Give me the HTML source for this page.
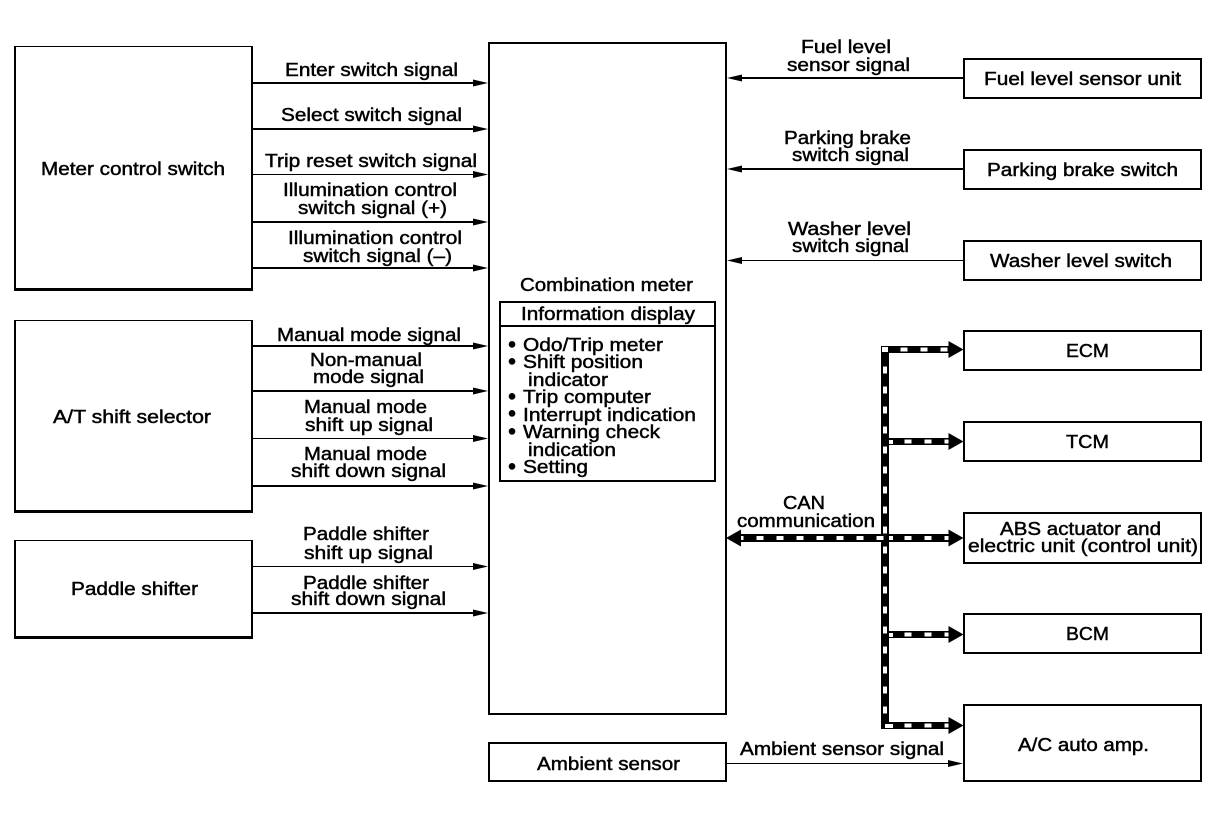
<!DOCTYPE html>
<html><head><meta charset="utf-8"><style>
html,body{margin:0;padding:0;background:#fff}
svg{display:block}
text{font-family:"Liberation Sans",sans-serif;font-size:18px;fill:#000;stroke:#000;stroke-width:.45px}
.b{fill:none;stroke:#000;stroke-width:2}
.l{stroke:#000;stroke-width:2;fill:none}
.t{stroke:#000;stroke-width:1;fill:none}
.w{stroke:#fff;stroke-width:4;fill:none;stroke-dasharray:7 13}
</style></head><body>
<svg width="1216" height="822" viewBox="0 0 1216 822" xmlns="http://www.w3.org/2000/svg">
<rect width="1216" height="822" fill="#fff"/>
<g shape-rendering="crispEdges">
<!-- left boxes: thin top, heavy bottom -->
<rect x="14" y="46" width="239" height="245" fill="#000"/><rect x="16" y="47" width="235" height="241" fill="#fff"/>
<rect x="14" y="320" width="239" height="193" fill="#000"/><rect x="16" y="321" width="235" height="189" fill="#fff"/>
<rect x="14" y="540" width="239" height="99" fill="#000"/><rect x="16" y="541" width="235" height="95" fill="#fff"/>
<rect class="b" x="489" y="43" width="237" height="671"/>
<rect class="b" x="489" y="743" width="237" height="38"/>
<rect class="b" x="500" y="302" width="215" height="179"/>
<line class="l" x1="500" y1="326" x2="715" y2="326"/>
<rect class="b" x="964" y="59" width="237" height="39"/>
<rect class="b" x="964" y="150" width="237" height="39"/>
<rect class="b" x="964" y="241" width="237" height="39"/>
<rect class="b" x="964" y="331" width="237" height="39"/>
<rect class="b" x="964" y="422" width="237" height="39"/>
<rect class="b" x="964" y="513" width="237" height="50"/>
<rect class="b" x="964" y="614" width="237" height="39"/>
<rect class="b" x="964" y="705" width="237" height="76"/>
<!-- left signal lines -->
<line class="l" x1="252" y1="83" x2="476" y2="83"/>
<line class="l" x1="252" y1="129" x2="476" y2="129"/>
<line class="t" x1="252" y1="174.5" x2="476" y2="174.5"/>
<line class="l" x1="252" y1="222" x2="476" y2="222"/>
<line class="l" x1="252" y1="268" x2="476" y2="268"/>
<line class="l" x1="252" y1="346" x2="476" y2="346"/>
<line class="l" x1="252" y1="391" x2="476" y2="391"/>
<line class="t" x1="252" y1="438.5" x2="476" y2="438.5"/>
<line class="l" x1="252" y1="486" x2="476" y2="486"/>
<line class="t" x1="252" y1="566.5" x2="476" y2="566.5"/>
<line class="l" x1="252" y1="613" x2="476" y2="613"/>
<!-- right signal lines -->
<line class="l" x1="738" y1="78" x2="964" y2="78"/>
<line class="l" x1="738" y1="169" x2="964" y2="169"/>
<line class="t" x1="738" y1="260.5" x2="964" y2="260.5"/>
<line class="t" x1="726" y1="763.5" x2="952" y2="763.5"/>
<!-- CAN bus black -->
<rect x="881" y="346" width="8" height="383" fill="#000"/>
<rect x="881" y="346" width="68" height="7" fill="#000"/>
<rect x="881" y="438" width="68" height="7" fill="#000"/>
<rect x="738" y="534" width="211" height="8" fill="#000"/>
<rect x="881" y="631" width="68" height="7" fill="#000"/>
<rect x="881" y="722" width="68" height="7" fill="#000"/>
<!-- CAN bus white dashes -->
<path class="w" d="M885 366.500V722"/>
<rect x="882" y="347" width="6" height="5" fill="#fff"/>
<path class="w" d="M900.500 349.500H952"/>
<path class="w" d="M904.500 441.500H952"/>
<path class="w" d="M904.500 538H952"/>
<path class="w" d="M904.500 634.500H952"/>
<path class="w" d="M904.500 725.500H952"/>
<path class="w" d="M736.500 538H884"/>
<rect x="889" y="440" width="4" height="4" fill="#fff"/>
<rect x="889" y="536" width="4" height="4" fill="#fff"/>
<rect x="889" y="633" width="4" height="4" fill="#fff"/>
<rect x="885" y="724" width="8" height="4" fill="#fff"/>
</g>
<g fill="#000">
<path d="M488 83l-15-3.500v7zM488 129l-15-3.500v7zM488 174.500l-15-3.500v7zM488 222l-15-3.500v7zM488 268l-15-3.500v7zM488 346l-15-3.500v7zM488 391l-15-3.500v7zM488 438.500l-15-3.500v7zM488 486l-15-3.500v7zM488 566.500l-15-3.500v7zM488 613l-15-3.500v7z"/>
<path d="M727 78l15-3.500v7zM727 169l15-3.500v7zM727 260.500l15-3.500v7z"/>
<path d="M963 763.500l-15-3.500v7z"/>
<path d="M963.500 349.500l-15-8.500v17zM963.500 441.500l-15-8.500v17zM963.500 538l-15-8.500v17zM963.500 634.500l-15-8.500v17zM963.500 725.500l-15-8.500v17zM726 538l15-8.500v17z"/>
</g>
<g>
<text lengthAdjust="spacingAndGlyphs" x="285" y="76" textLength="173">Enter switch signal</text>
<text lengthAdjust="spacingAndGlyphs" x="281" y="121" textLength="181">Select switch signal</text>
<text lengthAdjust="spacingAndGlyphs" x="265" y="167" textLength="212">Trip reset switch signal</text>
<text lengthAdjust="spacingAndGlyphs" x="283" y="196" textLength="174">Illumination control</text>
<text lengthAdjust="spacingAndGlyphs" x="298" y="214" textLength="149">switch signal (+)</text>
<text lengthAdjust="spacingAndGlyphs" x="288" y="244" textLength="174">Illumination control</text>
<text lengthAdjust="spacingAndGlyphs" x="303" y="262" textLength="149">switch signal (–)</text>
<text lengthAdjust="spacingAndGlyphs" x="277" y="341" textLength="184">Manual mode signal</text>
<text lengthAdjust="spacingAndGlyphs" x="310" y="366" textLength="112">Non-manual</text>
<text lengthAdjust="spacingAndGlyphs" x="313" y="383" textLength="111">mode signal</text>
<text lengthAdjust="spacingAndGlyphs" x="304" y="413" textLength="123">Manual mode</text>
<text lengthAdjust="spacingAndGlyphs" x="305" y="431" textLength="128">shift up signal</text>
<text lengthAdjust="spacingAndGlyphs" x="304" y="460" textLength="123">Manual mode</text>
<text lengthAdjust="spacingAndGlyphs" x="291" y="477" textLength="155">shift down signal</text>
<text lengthAdjust="spacingAndGlyphs" x="303" y="540" textLength="126">Paddle shifter</text>
<text lengthAdjust="spacingAndGlyphs" x="304" y="559" textLength="129">shift up signal</text>
<text lengthAdjust="spacingAndGlyphs" x="303" y="589" textLength="126">Paddle shifter</text>
<text lengthAdjust="spacingAndGlyphs" x="291" y="605" textLength="155">shift down signal</text>
<text lengthAdjust="spacingAndGlyphs" x="41" y="175" textLength="184">Meter control switch</text>
<text lengthAdjust="spacingAndGlyphs" x="53" y="423" textLength="158">A/T shift selector</text>
<text lengthAdjust="spacingAndGlyphs" x="71" y="595" textLength="127">Paddle shifter</text>
<text lengthAdjust="spacingAndGlyphs" x="520" y="291" textLength="173">Combination meter</text>
<text lengthAdjust="spacingAndGlyphs" x="521" y="320" textLength="174">Information display</text>
<text x="508" y="352" style="font-size:23px">•</text>
<text lengthAdjust="spacingAndGlyphs" x="523" y="351" textLength="140">Odo/Trip meter</text>
<text x="508" y="369" style="font-size:23px">•</text>
<text lengthAdjust="spacingAndGlyphs" x="523" y="368" textLength="120">Shift position</text>
<text lengthAdjust="spacingAndGlyphs" x="528" y="386" textLength="80">indicator</text>
<text x="508" y="404" style="font-size:23px">•</text>
<text lengthAdjust="spacingAndGlyphs" x="523" y="403" textLength="128">Trip computer</text>
<text x="508" y="421" style="font-size:23px">•</text>
<text lengthAdjust="spacingAndGlyphs" x="523" y="421" textLength="173">Interrupt indication</text>
<text x="508" y="439" style="font-size:23px">•</text>
<text lengthAdjust="spacingAndGlyphs" x="523" y="438" textLength="137">Warning check</text>
<text lengthAdjust="spacingAndGlyphs" x="528" y="456" textLength="88">indication</text>
<text x="508" y="474" style="font-size:23px">•</text>
<text lengthAdjust="spacingAndGlyphs" x="523" y="473" textLength="65">Setting</text>
<text lengthAdjust="spacingAndGlyphs" x="801" y="53" textLength="90">Fuel level</text>
<text lengthAdjust="spacingAndGlyphs" x="787" y="71" textLength="123">sensor signal</text>
<text lengthAdjust="spacingAndGlyphs" x="784" y="144" textLength="127">Parking brake</text>
<text lengthAdjust="spacingAndGlyphs" x="792" y="161" textLength="117">switch signal</text>
<text lengthAdjust="spacingAndGlyphs" x="788" y="235" textLength="123">Washer level</text>
<text lengthAdjust="spacingAndGlyphs" x="792" y="252" textLength="117">switch signal</text>
<text lengthAdjust="spacingAndGlyphs" x="783" y="509" textLength="42">CAN</text>
<text lengthAdjust="spacingAndGlyphs" x="737" y="527" textLength="138">communication</text>
<text lengthAdjust="spacingAndGlyphs" x="740" y="755" textLength="204">Ambient sensor signal</text>
<text lengthAdjust="spacingAndGlyphs" x="537" y="770" textLength="143">Ambient sensor</text>
<text lengthAdjust="spacingAndGlyphs" x="984" y="85" textLength="197">Fuel level sensor unit</text>
<text lengthAdjust="spacingAndGlyphs" x="987" y="176" textLength="191">Parking brake switch</text>
<text lengthAdjust="spacingAndGlyphs" x="990" y="267" textLength="182">Washer level switch</text>
<text lengthAdjust="spacingAndGlyphs" x="1066" y="357" textLength="43">ECM</text>
<text lengthAdjust="spacingAndGlyphs" x="1066" y="448" textLength="43">TCM</text>
<text lengthAdjust="spacingAndGlyphs" x="1000" y="535" textLength="161">ABS actuator and</text>
<text lengthAdjust="spacingAndGlyphs" x="968" y="552" textLength="230">electric unit (control unit)</text>
<text lengthAdjust="spacingAndGlyphs" x="1066" y="640" textLength="43">BCM</text>
<text lengthAdjust="spacingAndGlyphs" x="1018" y="751" textLength="131">A/C auto amp.</text>
</g>
</svg>
</body></html>
